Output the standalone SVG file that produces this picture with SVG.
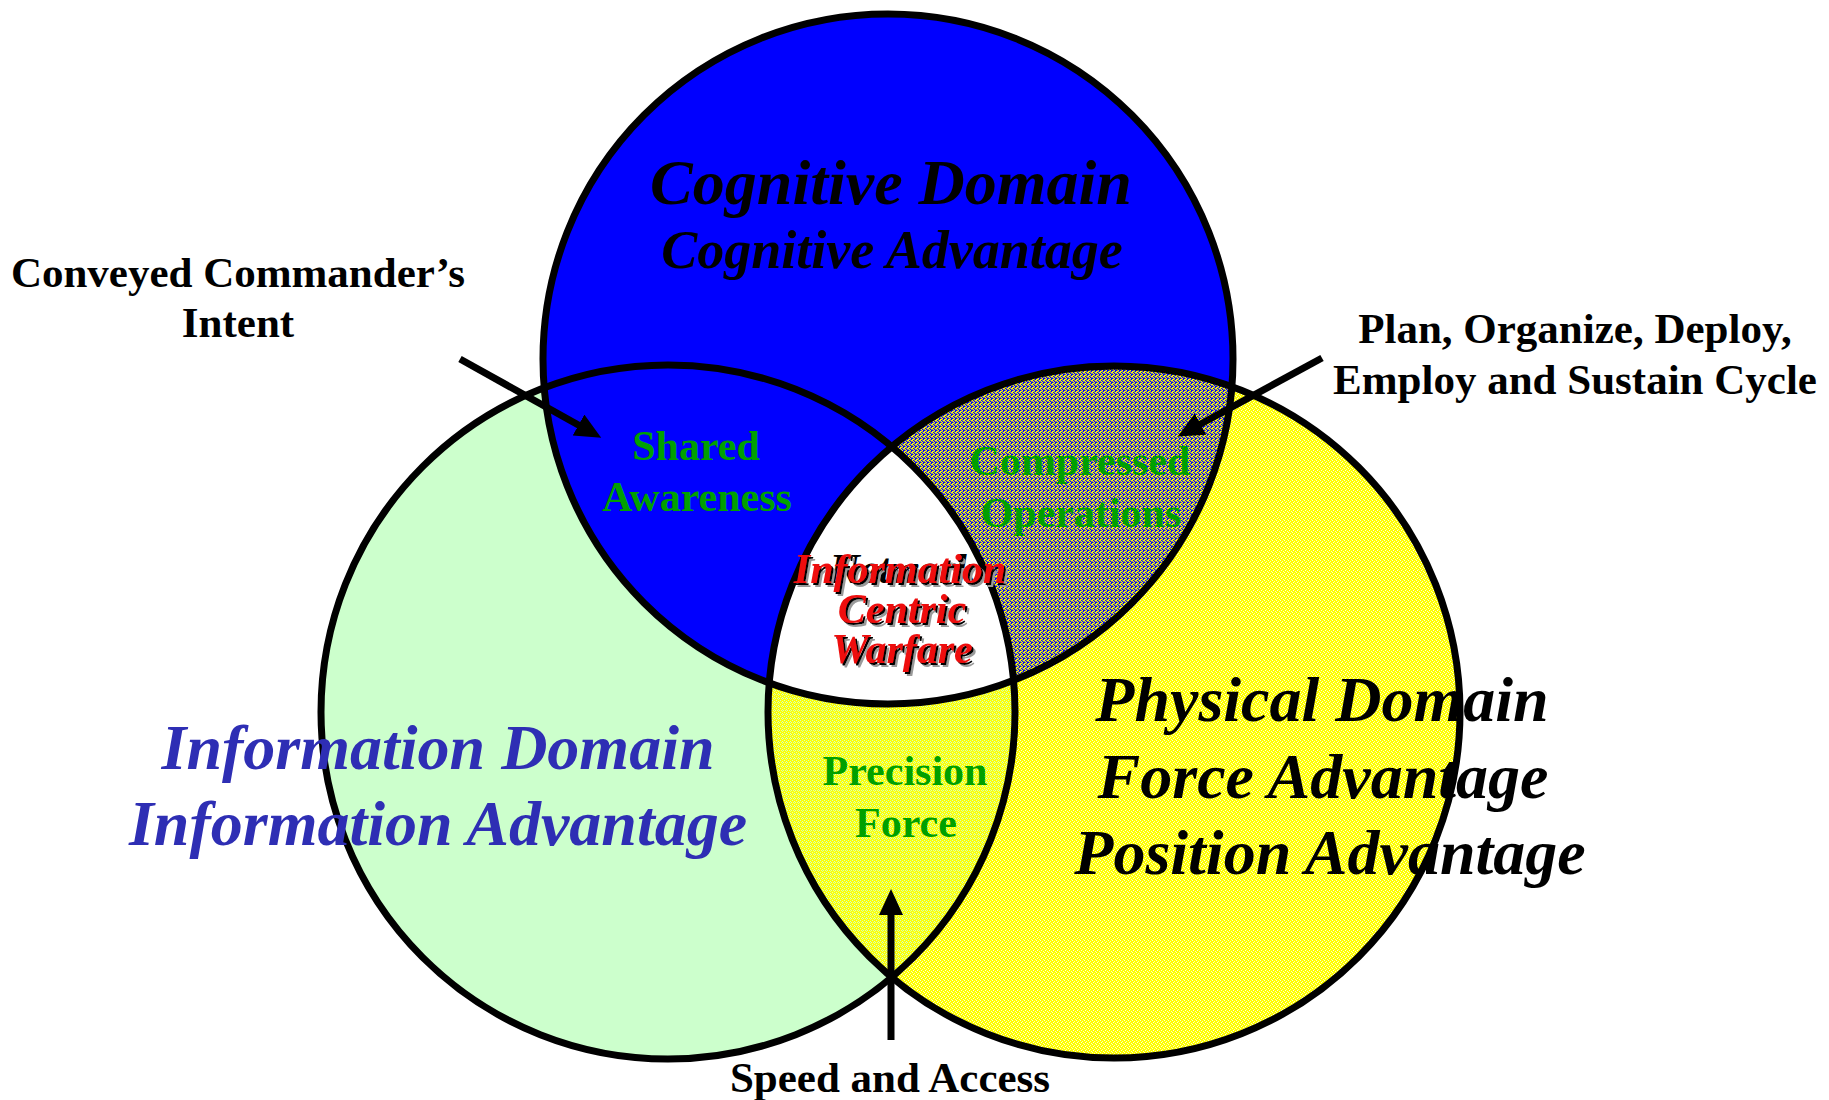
<svg xmlns="http://www.w3.org/2000/svg" width="1829" height="1100" viewBox="0 0 1829 1100">
  <style>
    .lbl { font-family: "Liberation Serif", "Times New Roman", serif; font-weight: bold; text-anchor: middle; }
    .ital { font-style: italic; }
    .ext { fill: #000; font-size: 43px; }
    .mid { fill: #00A000; font-size: 42px; }
    .dom { font-size: 64px; }
    .ctr { fill: #EE1111; font-size: 42px; }
    .outline { fill: none; stroke: #000; stroke-width: 7; }
    .conn { stroke: #000; stroke-width: 7; fill: none; marker-end: url(#arrow); }
  </style>
  <defs>
    <pattern id="yel" patternUnits="userSpaceOnUse" width="4" height="4">
      <rect width="4" height="4" fill="#FFFF00"/>
      <rect x="0" y="0" width="1" height="1" fill="#FFFFD0"/>
      <rect x="2" y="1" width="1" height="1" fill="#FFFFB0"/>
      <rect x="1" y="2" width="1" height="1" fill="#FFFFE0"/>
      <rect x="3" y="3" width="1" height="1" fill="#FFFFC0"/>
    </pattern>
    <pattern id="yelgrn" patternUnits="userSpaceOnUse" width="4" height="4">
      <rect width="4" height="4" fill="#FFFF00"/>
      <rect x="0" y="0" width="1" height="1" fill="#CCFFCC"/>
      <rect x="2" y="1" width="1" height="1" fill="#CCFFCC"/>
      <rect x="1" y="2" width="1" height="1" fill="#D8FFB0"/>
      <rect x="3" y="2" width="1" height="1" fill="#CCFFCC"/>
      <rect x="2" y="3" width="1" height="1" fill="#E0FF90"/>
    </pattern>
    <pattern id="bluyel" patternUnits="userSpaceOnUse" width="4" height="4">
      <rect width="4" height="4" fill="#808080"/>
      <rect x="0" y="0" width="1" height="1" fill="#FFFF00"/>
      <rect x="1" y="0" width="1" height="1" fill="#0000FF"/>
      <rect x="3" y="0" width="1" height="1" fill="#FFFF00"/>
      <rect x="1" y="1" width="1" height="1" fill="#FFFF00"/>
      <rect x="2" y="1" width="1" height="1" fill="#0000FF"/>
      <rect x="0" y="2" width="1" height="1" fill="#0000FF"/>
      <rect x="2" y="2" width="1" height="1" fill="#FFFF00"/>
      <rect x="3" y="2" width="1" height="1" fill="#0000FF"/>
      <rect x="0" y="3" width="2" height="1" fill="#FFFF00"/>
      <rect x="3" y="3" width="1" height="1" fill="#0000FF"/>
    </pattern>
    <clipPath id="clipYellow"><circle cx="1114" cy="712" r="346"/></clipPath>
    <clipPath id="clipGreen"><circle cx="668" cy="712" r="347"/></clipPath>
    <marker id="arrow" markerUnits="userSpaceOnUse" markerWidth="28" markerHeight="26" refX="4" refY="12" orient="auto">
      <path d="M0,0 L26,12 L0,24 z" fill="#000"/>
    </marker>
    <filter id="shadow" x="-10%" y="-20%" width="130%" height="160%">
      <feOffset in="SourceAlpha" dx="4" dy="4" result="o2"/>
      <feFlood flood-color="#9A9A9A"/>
      <feComposite in2="o2" operator="in" result="s2"/>
      <feOffset in="SourceAlpha" dx="2" dy="2" result="o1"/>
      <feFlood flood-color="#000"/>
      <feComposite in2="o1" operator="in" result="s1"/>
      <feMerge><feMergeNode in="s2"/><feMergeNode in="s1"/><feMergeNode in="SourceGraphic"/></feMerge>
    </filter>
  </defs>

  <rect width="1829" height="1100" fill="#FFFFFF"/>

  <!-- Domain fills -->
  <g id="information-domain">
    <circle cx="668" cy="712" r="347" fill="#CCFFCC"/>
  </g>
  <g id="physical-domain">
    <circle cx="1114" cy="712" r="346" fill="url(#yel)"/>
  </g>
  <g id="precision-force-region">
    <circle cx="668" cy="712" r="347" fill="url(#yelgrn)" clip-path="url(#clipYellow)"/>
  </g>
  <g id="cognitive-domain">
    <circle cx="888" cy="359" r="345" fill="#0000FF"/>
  </g>
  <g id="compressed-operations-region">
    <circle cx="888" cy="359" r="345" fill="url(#bluyel)" clip-path="url(#clipYellow)"/>
  </g>
  <g id="network-centric-region" clip-path="url(#clipYellow)">
    <g clip-path="url(#clipGreen)">
      <circle cx="888" cy="359" r="345" fill="#FFFFFF"/>
    </g>
  </g>

  <!-- Physical domain label (under outlines) -->
  <g id="physical-domain-label">
    <text class="lbl ital dom" x="1322" y="721" fill="#000">Physical Domain</text>
    <text class="lbl ital dom" x="1323" y="798" fill="#000">Force Advantage</text>
    <text class="lbl ital dom" x="1330" y="874" fill="#000">Position Advantage</text>
  </g>

  <!-- Outlines -->
  <g id="outlines">
    <circle class="outline" cx="668" cy="712" r="347"/>
    <circle class="outline" cx="1114" cy="712" r="346"/>
    <circle class="outline" cx="888" cy="359" r="345"/>
  </g>

  <g id="cognitive-domain-label">
    <text class="lbl ital dom" x="891" y="204" fill="#000">Cognitive Domain</text>
    <text class="lbl ital" x="892" y="268" fill="#000" font-size="54">Cognitive Advantage</text>
  </g>

  <g id="information-domain-label">
    <text class="lbl ital dom" x="438" y="769" fill="#2E2EB4">Information Domain</text>
    <text class="lbl ital dom" x="438" y="845" fill="#2E2EB4">Information Advantage</text>
  </g>

  <g id="shared-awareness">
    <text class="lbl mid" x="696" y="460">Shared</text>
    <text class="lbl mid" x="697" y="511">Awareness</text>
  </g>

  <g id="compressed-operations">
    <text class="lbl mid" x="1080" y="475">Compressed</text>
    <text class="lbl mid" x="1081" y="527">Operations</text>
  </g>

  <g id="precision-force">
    <text class="lbl mid" x="905" y="785">Precision</text>
    <text class="lbl mid" x="906" y="837">Force</text>
  </g>

  <g id="information-centric-warfare">
    <text class="lbl ital" x="903" y="583" fill="#000" font-size="42">Network</text>
    <g filter="url(#shadow)">
      <text class="lbl ital ctr" x="900" y="583">Information</text>
      <text class="lbl ital ctr" x="902" y="623">Centric</text>
      <text class="lbl ital ctr" x="902" y="663">Warfare</text>
    </g>
  </g>

  <g id="conveyed-commanders-intent">
    <text class="lbl ext" x="238" y="287">Conveyed Commander’s</text>
    <text class="lbl ext" x="238" y="337">Intent</text>
  </g>

  <g id="plan-cycle">
    <text class="lbl ext" x="1575" y="343">Plan, Organize, Deploy,</text>
    <text class="lbl ext" x="1575" y="394">Employ and Sustain Cycle</text>
  </g>

  <g id="speed-and-access">
    <text class="lbl ext" x="890" y="1092">Speed and Access</text>
  </g>

  <!-- Connectors -->
  <g id="connectors">
    <line class="conn" x1="460" y1="359" x2="582" y2="427"/>
    <line class="conn" x1="1322" y1="358" x2="1197" y2="426"/>
    <line class="conn" x1="891" y1="1040" x2="891" y2="911"/>
  </g>
</svg>
